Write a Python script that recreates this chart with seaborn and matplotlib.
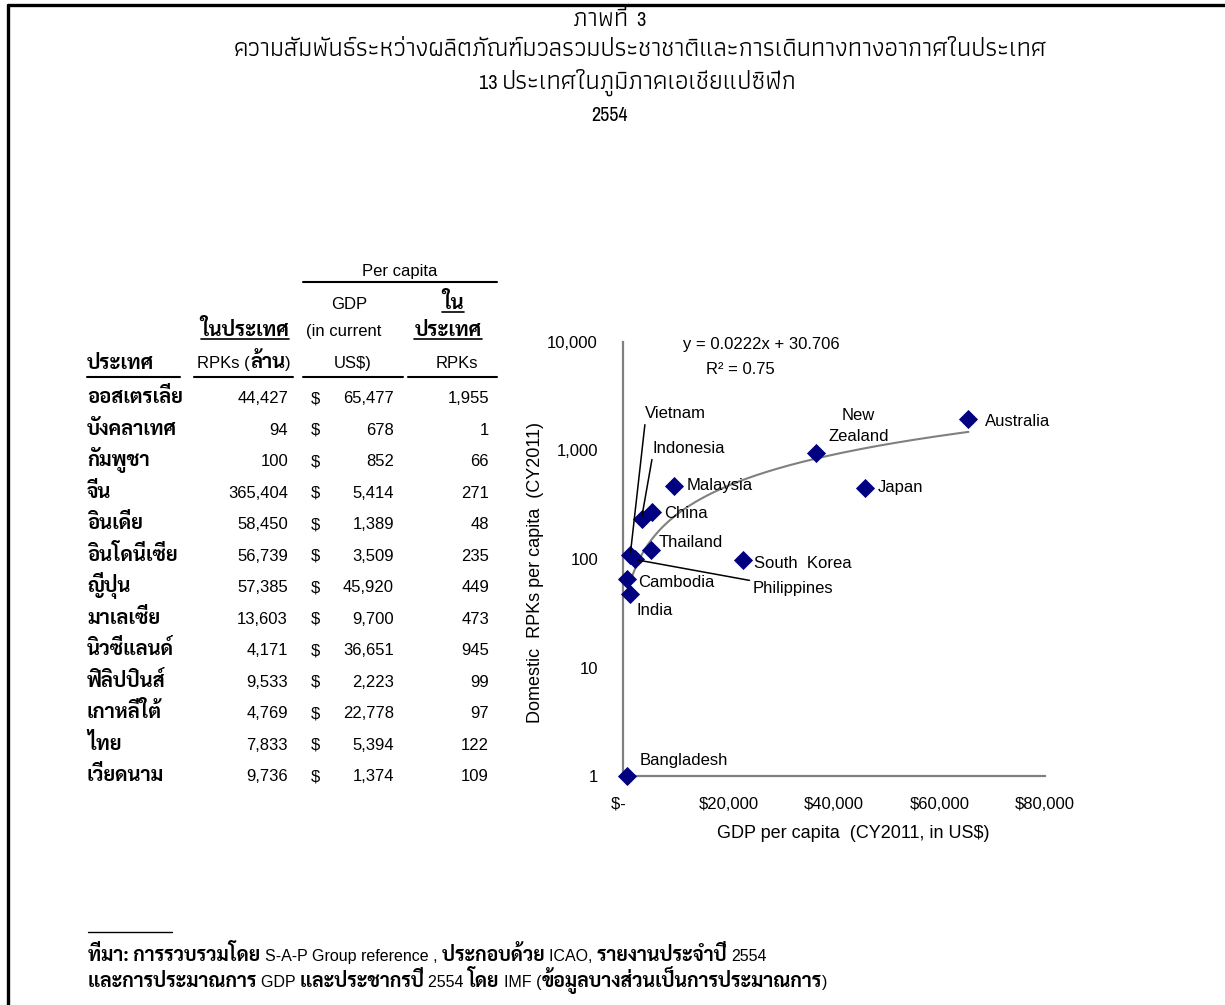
import numpy as np
import pandas as pd
import matplotlib
matplotlib.use('Agg')
import matplotlib.pyplot as plt
from matplotlib import font_manager
from matplotlib.lines import Line2D
from matplotlib.ticker import NullLocator
import seaborn as sns

# =====================================
# Data
# =====================================
countries = ['Australia', 'Bangladesh', 'Cambodia', 'China', 'India', 'Indonesia',
             'Japan', 'Malaysia', 'New\nZealand', 'Philippines', 'South  Korea',
             'Thailand', 'Vietnam']
countries_th = ['ออสเตรเลีย', 'บังคลาเทศ', 'กัมพูชา', 'จีน', 'อินเดีย', 'อินโดนีเซีย',
                'ญี่ปุ่น', 'มาเลเซีย', 'นิวซีแลนด์', 'ฟิลิปปินส์', 'เกาหลีใต้', 'ไทย', 'เวียดนาม']
rpk_million = [44427, 94, 100, 365404, 58450, 56739, 57385, 13603, 4171, 9533, 4769, 7833, 9736]
gdp_per_capita = [65477, 678, 852, 5414, 1389, 3509, 45920, 9700, 36651, 2223, 22778, 5394, 1374]
rpk_per_capita = [1955, 1, 66, 271, 48, 235, 449, 473, 945, 99, 97, 122, 109]

# trend line shown on the chart
TREND_SLOPE = 0.0222
TREND_INTERCEPT = 30.706
TREND_R2 = 0.75

x_ticks = [0, 20000, 40000, 60000, 80000]
x_tick_labels = ['$-  ', '$20,000', '$40,000', '$60,000', '$80,000']
y_ticks = [1, 10, 100, 1000, 10000]
y_tick_labels = ['1', '10', '100', '1,000', '10,000']

# (text, is_thai) pieces
title_lines = [
    [('ภาพที่ ', True), ('3', False)],
    [('ความสัมพันธ์ระหว่างผลิตภัณฑ์มวลรวมประชาชาติและการเดินทางทางอากาศในประเทศ', True)],
    [('13 ', False), ('ประเทศในภูมิภาคเอเชียแปซิฟิก', True)],
    [('2554', False)],
]
footer_line1 = [('ที่มา: การรวบรวมโดย ', True), ('S-A-P Group reference , ', False),
                ('ประกอบด้วย ', True), ('ICAO, ', False), ('รายงานประจำปี ', True), ('2554', False)]
footer_line2 = [('และการประมาณการ ', True), ('GDP ', False), ('และประชากรปี ', True),
                ('2554 ', False), ('โดย ', True), ('IMF (', False),
                ('ข้อมูลบางส่วนเป็นการประมาณการ', True), (')', False)]

df = pd.DataFrame({'country': countries, 'gdp': gdp_per_capita, 'rpk': rpk_per_capita})

# =====================================
# Fonts
# =====================================
available = {f.name for f in font_manager.fontManager.ttflist}


def pick(names, default='DejaVu Sans'):
    for n in names:
        if n in available:
            return n
    return default


LATIN = pick(['Liberation Sans', 'Arimo'])
NARROW = pick(['Liberation Sans Narrow', 'Archivo Narrow', 'PT Sans Narrow', 'Roboto Condensed'], LATIN)
THAI = pick(['Athiti', 'Anuphan', 'IBM Plex Sans Thai', 'Noto Sans Thai'])
THAI_LOOP = pick(['Sarabun', 'Noto Sans Thai Looped', 'IBM Plex Sans Thai Looped', 'Bai Jamjuree'])

sns.set_theme(style='white')
plt.rcParams['font.family'] = [LATIN, THAI_LOOP, 'DejaVu Sans']
plt.rcParams['text.color'] = 'black'
plt.rcParams['axes.labelcolor'] = 'black'
plt.rcParams['xtick.color'] = 'black'
plt.rcParams['ytick.color'] = 'black'

NAVY = '#000080'
GREY = '#808080'

ST_LAT = dict(family=[LATIN, THAI_LOOP], fontsize=12)
ST_THB = dict(family=[THAI_LOOP, LATIN], fontsize=14.5, fontweight='bold')
ST_TITLE_TH = dict(family=[THAI, LATIN], fontsize=18.5)
ST_TITLE_NUM = dict(family=[NARROW, LATIN], fontsize=14.5)
ST_FOOT_TH = dict(family=[THAI_LOOP, LATIN], fontsize=14, fontweight='bold')
ST_FOOT_LAT = dict(family=[LATIN, THAI_LOOP], fontsize=11.5)

fig = plt.figure(figsize=(12.25, 10.05), dpi=100)

# background axes in pixel coordinates for titles, table and footer
bg = fig.add_axes([0, 0, 1, 1], zorder=0)
bg.set_xlim(0, 1225)
bg.set_ylim(1005, 0)
bg.axis('off')

bg.add_line(Line2D([8, 1225], [5, 5], color='black', lw=2.4))
bg.add_line(Line2D([8, 8], [5, 1005], color='black', lw=2.4))

to_center = []
underlined = []


def chain(x, y, parts, ha='left'):
    texts = []
    for s, st in parts:
        kw = dict(va='baseline', ha='left', **st)
        if not texts:
            texts.append(bg.text(x, y, s, **kw))
        else:
            texts.append(bg.annotate(s, xy=(1, y), xycoords=(texts[-1], 'data'), **kw))
    if ha == 'center':
        to_center.append((texts, x))
    return texts


# titles
title_pos = [(609, 26), (640, 56), (638, 89), (610, 121)]
for parts, (tx, ty) in zip(title_lines, title_pos):
    chain(tx, ty, [(s, ST_TITLE_TH if th else ST_TITLE_NUM) for s, th in parts], ha='center')

# =====================================
# Table
# =====================================


def cell(x, y, s, ha='center', bold=False, underline=False):
    st = ST_THB if bold else ST_LAT
    t = bg.text(x, y, s, ha=ha, va='baseline', **st)
    if underline:
        underlined.append((t, y))
    return t


cell(400, 276, 'Per capita')
cell(349, 309, 'GDP')
cell(453, 309, 'ใน', bold=True, underline=True)
cell(245, 336, 'ในประเทศ', bold=True, underline=True)
cell(344, 336, '(in current')
cell(448, 336, 'ประเทศ', bold=True, underline=True)
cell(87, 369, 'ประเทศ', ha='left', bold=True)
chain(244, 368, [('RPKs (', ST_LAT), ('ล้าน', ST_THB), (')', ST_LAT)], ha='center')
cell(353, 368, 'US$)')
cell(457, 368, 'RPKs')

bg.add_line(Line2D([303, 497], [282, 282], color='black', lw=1.5))
for x0, x1 in [(87, 180), (194, 293), (303, 403), (408, 497)]:
    bg.add_line(Line2D([x0, x1], [377, 377], color='black', lw=1.5))

for i in range(len(countries_th)):
    yb = 403 + i * 31.5
    cell(87, yb, countries_th[i], ha='left', bold=True)
    cell(288, yb, f'{rpk_million[i]:,}', ha='right')
    cell(315, yb, '$')
    cell(394, yb, f'{gdp_per_capita[i]:,}', ha='right')
    cell(489, yb, f'{rpk_per_capita[i]:,}', ha='right')

# =====================================
# Footer
# =====================================
bg.add_line(Line2D([88, 172], [932, 932], color='black', lw=1))
chain(88, 961, [(s, ST_FOOT_TH if th else ST_FOOT_LAT) for s, th in footer_line1])
chain(88, 987, [(s, ST_FOOT_TH if th else ST_FOOT_LAT) for s, th in footer_line2])

# =====================================
# Scatter chart
# =====================================
ax = fig.add_axes([623 / 1225, 1 - 776 / 1005, 422 / 1225, 434 / 1005], zorder=2)
ax.patch.set_alpha(0)

# trend line y = a*x + b over the data range
xs = np.linspace(min(gdp_per_capita), max(gdp_per_capita), 300)
sns.lineplot(x=xs, y=TREND_SLOPE * xs + TREND_INTERCEPT, color=GREY, lw=1.5, ax=ax, zorder=2)

sns.scatterplot(data=df, x='gdp', y='rpk', marker='D', s=95, color=NAVY,
                linewidth=0, ax=ax, zorder=3, clip_on=False)
pts = ax.collections[0]
pts.set_facecolors(['#102060' if r <= 1 else NAVY for r in rpk_per_capita])
pts.set_edgecolors(['black' if r <= 1 else NAVY for r in rpk_per_capita])
pts.set_linewidths([1.4 if r <= 1 else 0 for r in rpk_per_capita])

ax.set_yscale('log')
ax.set_xlim(0, 80000)
ax.set_ylim(1, 10000)
ax.set_xticks(x_ticks, x_tick_labels)
ax.set_yticks(y_ticks, y_tick_labels)
ax.yaxis.set_minor_locator(NullLocator())
ax.tick_params(axis='both', length=0, labelsize=12, colors='black')
ax.tick_params(axis='y', pad=18)
ax.tick_params(axis='x', pad=15)

for side in ['top', 'right']:
    ax.spines[side].set_visible(False)
for side in ['left', 'bottom']:
    ax.spines[side].set_color(GREY)
    ax.spines[side].set_linewidth(1.6)

ax.set_xlabel('GDP per capita  (CY2011, in US$)', fontsize=13)
ax.set_ylabel('Domestic  RPKs per capita  (CY2011)', fontsize=13)
ax.xaxis.set_label_coords(0.545, -0.112)
ax.yaxis.set_label_coords(-0.187, 0.47)

# point labels: offset in pixels (dx right, dy down), leader line anchor on the label
label_layout = {
    'Australia': (17, 3, 'left', None),
    'Bangladesh': (13, -16, 'left', None),
    'Cambodia': (11, 4, 'left', None),
    'China': (13, 1, 'left', None),
    'India': (6, 17, 'left', None),
    'Indonesia': (11, -70, 'left', (0, 0)),
    'Japan': (13, -1, 'left', None),
    'Malaysia': (12, 0, 'left', None),
    'New\nZealand': (42, -27, 'center', None),
    'Philippines': (118, 29, 'left', (0, 1)),
    'South  Korea': (11, 3, 'left', None),
    'Thailand': (7, -7, 'left', None),
    'Vietnam': (15, -141, 'left', (0, 0)),
}
for name, gx, ry in zip(countries, gdp_per_capita, rpk_per_capita):
    dx, dy, ha, leader = label_layout[name]
    kw = dict(xy=(gx, ry), xytext=(dx, -dy), textcoords='offset pixels',
              ha=ha, va='center', fontsize=12, linespacing=1.55, zorder=4,
              annotation_clip=False)
    if leader is not None:
        kw['arrowprops'] = dict(arrowstyle='-', color='black', lw=1.1,
                                shrinkA=0, shrinkB=2, relpos=leader)
    ax.annotate(name, **kw)

bg.text(761, 349, f'y = {TREND_SLOPE}x + {TREND_INTERCEPT}', ha='center', va='baseline', fontsize=12)
bg.text(740, 374, f'R² = {TREND_R2}', ha='center', va='baseline', fontsize=12)

# center the multi-font lines, then underline header words
fig.canvas.draw()
for texts, cx in to_center:
    x0 = texts[0].get_window_extent().x0
    x1 = texts[-1].get_window_extent().x1
    texts[0].set_x(cx - (x1 - x0) / 2)

fig.canvas.draw()
inv = bg.transData.inverted()
for t, yb in underlined:
    bb = t.get_window_extent()
    (x0, _), (x1, _) = inv.transform([[bb.x0, bb.y0], [bb.x1, bb.y1]])
    bg.add_line(Line2D([x0, x1], [yb + 3, yb + 3], color='black', lw=1.2))

fig.savefig('out.png', dpi=100)
